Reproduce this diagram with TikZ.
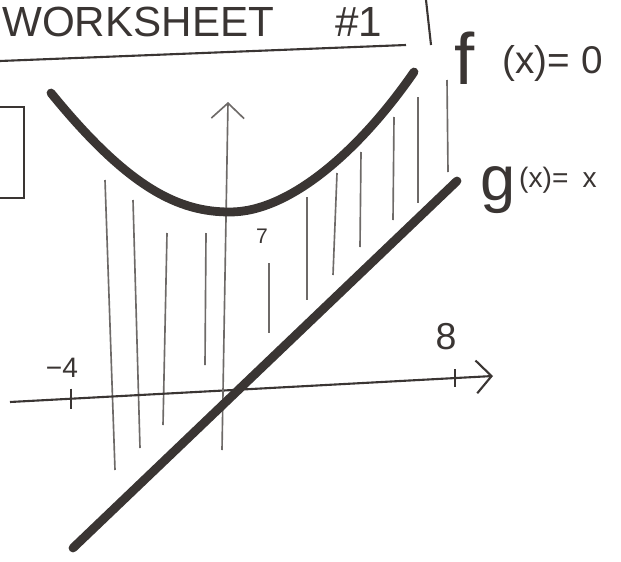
\documentclass[tikz,border=0pt]{standalone}
\usepackage{fontspec}
\setmainfont{Liberation Sans}
\usetikzlibrary{arrows.meta}
\definecolor{ink}{HTML}{3A3533}
\definecolor{lead}{HTML}{6E6A68}
\begin{document}
\begin{tikzpicture}[x = 0.03cm, y = -0.03cm, >={Straight Barb[length = 13pt, width = 28pt]},
	marker/.style = {line width = 7.5pt, ink, line cap = round},
	pen/.style = {line width = 1.8pt, ink},
	hatch/.style = {line width = 1.4pt, lead},
	hand/.style = {inner sep = 0pt, text = ink}]
	\useasboundingbox [fill = white] (0,0) rectangle (621,561);
	% title and box
	\node [hand, anchor = base west, font = \fontsize{36}{36}\selectfont] (title) at (2,36) {WORKSHEET};
	\node [hand, anchor = base west, font = \fontsize{36}{36}\selectfont] (num) at (335,36) {\#1};
	\coordinate (ul) at (0,61);
	\coordinate (ur) at (406,45);
	\draw [pen] (ul) -- (ur);
	\coordinate (bar0) at (426,0);
	\coordinate (bar1) at (431,45);
	\draw [pen] (bar0) -- (bar1);
	\draw [pen] (-10,107) rectangle (24,198);
	% shading between the curves
	\foreach \xa/\ya/\xb/\yb in {105/180/115/470, 133/200/140/448, 167/233/163/425, 206/233/205/365,
		269/263/269/333, 307/197/307/300, 337/173/333/275, 361/152/360/247,
		394/117/393/220, 418/97/418/203, 447/80/448/172}
		\draw [hatch] (\xa,\ya) -- (\xb,\yb);
	% axes
	\coordinate (xl) at (10,402);
	\coordinate (xr) at (493,376);
	\coordinate (yb) at (222,450);
	\coordinate (yt) at (228,102);
	\draw [pen, ->] (xl) -- (xr) coordinate [pos = 0.126] (t4) coordinate [pos = 0.921] (t8);
	\draw [hatch, ->] (yb) -- (yt);
	\draw [pen] (t4) +(0,-10) -- +(0,10);
	\draw [pen] (t8) +(0,-9) -- +(0,9);
	\node [hand, font = \fontsize{24}{24}\selectfont] (m4) at (62,368) {−4};
	\node [hand, font = \fontsize{32}{32}\selectfont] (p8) at (446,337) {8};
	\node [hand, font = \fontsize{18}{18}\selectfont] (p7) at (262,236) {7};
	% the two functions
	\coordinate (f0) at (51,93);
	\coordinate (fmin) at (230,212);
	\coordinate (f1) at (414,72);
	\draw [marker] (f0) .. controls (130,190) and (180,212) .. (fmin) .. controls (290,212) and (360,150) .. (f1);
	\coordinate (g0) at (73,548);
	\coordinate (g1) at (457,181);
	\draw [marker] (g0) -- (g1);
	\node [hand, anchor = north west, font = \fontsize{62}{62}\selectfont] (f) at (454,32) {f};
	\node [hand, anchor = west, font = \fontsize{33}{33}\selectfont] (fx) at (502,63) {(x)=\hspace{0.3em}0};
	\node [hand, anchor = north west, font = \fontsize{54}{54}\selectfont] (g) at (480,166) {g};
	\node [hand, anchor = north west, font = \fontsize{24}{24}\selectfont] (gx) at (519,167) {(x)=\hspace{0.5em}x};
\end{tikzpicture}
\end{document}
